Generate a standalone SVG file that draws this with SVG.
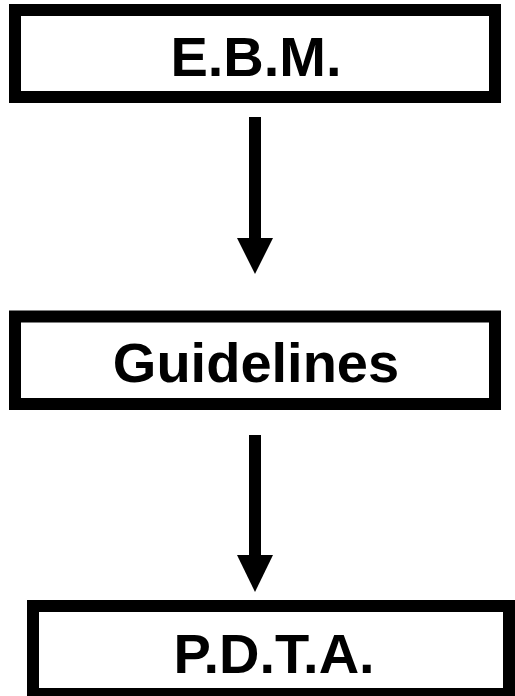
<svg xmlns="http://www.w3.org/2000/svg" width="515" height="696" viewBox="0 0 515 696">
<style>
.box{fill:#fff;stroke:#000;stroke-width:12}
.lbl{font-family:"Liberation Sans",Arial,sans-serif;font-weight:bold;font-size:56px;fill:#000;text-anchor:middle}
.shaft{stroke:#000;stroke-width:12;fill:none}
.head{fill:#000}
</style>
<rect width="515" height="696" fill="#fff"/>
<g id="connectors">
<g id="arrow1"><line class="shaft" x1="255" y1="117" x2="255" y2="240"/><polygon class="head" points="237,238 273,238 255,274"/></g>
<g id="arrow2"><line class="shaft" x1="255" y1="435" x2="255" y2="557"/><polygon class="head" points="237,555 273,555 255,592"/></g>
</g>
<g id="ebm"><rect class="box" x="15" y="10" width="480" height="87"/><text class="lbl" x="256" y="76">E.B.M.</text></g>
<g id="guidelines"><rect class="box" x="15" y="316.5" width="480" height="87.5"/><text class="lbl" x="256" y="382">Guidelines</text></g>
<g id="pdta"><rect class="box" x="33" y="606" width="476" height="88"/><text class="lbl" x="274" y="673">P.D.T.A.</text></g>
</svg>
